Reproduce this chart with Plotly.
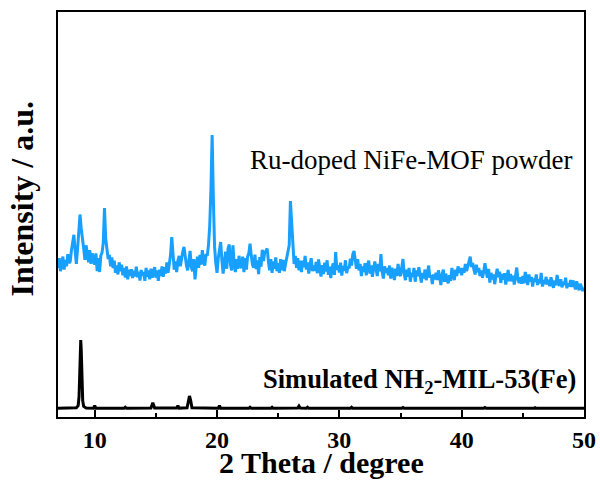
import numpy as np
import plotly.graph_objects as go

# ---- data ----
# Ru-doped NiFe-MOF powder: x grid 7.0..50.0 step 0.1, intensities (a.u.)
ru_x = np.round(np.arange(70, 501) / 10.0, 1)
ru_y = [
    36.8, 39.2, 36.0, 38.2, 39.6, 36.4, 38.8, 37.2, 40.2, 38.0,   # 7.x
    38.4, 41.2, 43.5, 45.0, 41.0, 37.8, 41.5, 45.0, 50.0, 46.5,   # 8.x
    43.0, 41.6, 38.8, 42.4, 40.0, 38.2, 41.2, 37.8, 40.4, 38.6,   # 9.x
    37.6, 40.4, 36.0, 39.2, 35.8, 39.8, 40.6, 43.0, 51.6, 44.0,   # 10.x
    41.0, 39.0, 40.0, 37.2, 39.4, 36.8, 38.6, 35.6, 37.4, 35.2,   # 11.x
    38.2, 36.0, 37.6, 35.0, 36.8, 34.4, 37.2, 34.0, 36.4, 34.8,   # 12.x
    36.5, 34.3, 36.1, 34.7, 37.1, 34.5, 35.9, 33.7, 36.3, 34.9,   # 13.x
    35.8, 33.6, 36.8, 34.6, 36.2, 34.0, 36.6, 34.4, 35.6, 37.0,   # 14.x
    34.4, 36.2, 33.6, 36.4, 34.8, 37.2, 34.6, 37.0, 35.4, 38.2,   # 15.x
    35.6, 37.5, 40.0, 44.4, 39.5, 36.4, 38.4, 35.8, 38.6, 39.8,   # 16.x
    37.2, 39.6, 40.8, 42.0, 39.0, 37.4, 36.2, 38.8, 41.0, 37.0,   # 17.x
    36.0, 39.0, 34.0, 37.2, 39.6, 36.8, 40.0, 37.6, 41.2, 38.4,   # 18.x
    37.4, 40.2, 39.8, 42.4, 47.0, 56.0, 69.6, 54.0, 42.0, 38.0,   # 19.x
    35.6, 39.2, 40.8, 43.2, 38.6, 35.4, 38.4, 40.8, 36.6, 41.6,   # 20.x
    42.6, 37.6, 36.2, 42.4, 38.0, 35.8, 39.0, 36.6, 39.8, 37.4,   # 21.x
    36.8, 39.6, 35.8, 39.2, 36.4, 39.6, 40.4, 42.8, 39.8, 37.6,   # 22.x
    36.9, 40.1, 36.5, 38.7, 35.3, 39.5, 37.1, 41.3, 38.5, 40.7,   # 23.x
    41.0, 41.6, 38.4, 36.2, 39.0, 35.6, 38.4, 36.6, 39.4, 36.0,   # 24.x
    38.0, 35.6, 39.0, 36.2, 38.8, 36.0, 37.8, 39.6, 40.8, 42.4,   # 25.x
    53.3, 47.0, 40.4, 37.8, 39.8, 36.8, 39.2, 36.2, 38.6, 35.8,   # 26.x
    38.6, 37.0, 39.8, 36.4, 38.2, 35.4, 37.6, 39.2, 36.0, 37.4,   # 27.x
    36.1, 38.3, 35.5, 38.9, 36.7, 34.7, 37.5, 35.3, 38.1, 35.9,   # 28.x
    38.7, 35.1, 37.1, 34.3, 36.9, 37.9, 35.1, 40.7, 36.3, 37.5,   # 29.x
    35.7, 38.1, 34.9, 37.3, 36.1, 38.7, 35.5, 37.1, 36.7, 39.1,   # 30.x
    37.4, 40.2, 41.0, 38.0, 36.6, 39.0, 36.2, 37.8, 34.8, 37.2,   # 31.x
    35.8, 38.0, 35.0, 37.2, 38.6, 35.4, 37.4, 34.6, 37.0, 38.4,   # 32.x
    36.6, 34.8, 37.8, 36.0, 40.2, 35.8, 34.2, 37.2, 35.6, 36.8,   # 33.x
    35.0, 37.4, 34.2, 36.8, 35.6, 33.8, 36.6, 34.8, 37.8, 35.4,   # 34.x
    34.8, 36.6, 39.0, 35.4, 33.8, 36.4, 34.6, 36.8, 33.4, 35.6,   # 35.x
    34.6, 36.8, 33.4, 36.2, 34.8, 37.0, 35.0, 33.2, 35.6, 34.2,   # 36.x
    36.4, 33.8, 35.4, 37.4, 34.4, 35.0, 32.8, 35.2, 34.0, 35.6,   # 37.x
    33.8, 36.2, 34.6, 32.6, 35.2, 36.4, 33.4, 35.4, 34.0, 33.0,   # 38.x
    35.0, 33.6, 36.8, 35.2, 33.8, 36.4, 34.8, 37.2, 35.6, 36.8,   # 39.x
    35.0, 36.8, 35.6, 37.8, 36.0, 37.2, 38.4, 39.6, 37.0, 38.0,   # 40.x
    36.4, 35.2, 37.6, 35.8, 36.8, 34.8, 36.2, 34.4, 35.8, 38.0,   # 41.x
    36.0, 34.4, 36.6, 33.2, 35.6, 34.0, 35.2, 32.8, 34.8, 36.6,   # 42.x
    34.5, 35.9, 33.1, 35.3, 33.9, 35.5, 32.7, 34.7, 36.3, 33.5,   # 43.x
    35.3, 33.5, 34.9, 32.7, 35.5, 36.9, 33.9, 33.1, 34.5, 32.9,   # 44.x
    34.8, 33.0, 35.8, 34.0, 32.6, 35.2, 33.4, 34.6, 32.2, 34.2,   # 45.x
    33.4, 35.2, 32.6, 34.0, 33.0, 35.6, 32.2, 33.8, 32.8, 34.6,   # 46.x
    32.7, 33.9, 32.3, 34.5, 33.1, 31.9, 33.7, 32.5, 35.1, 32.9,   # 47.x
    32.4, 34.0, 32.0, 33.4, 32.6, 34.4, 31.8, 33.0, 32.2, 33.8,   # 48.x
    32.1, 33.7, 32.7, 31.5, 33.5, 32.3, 31.3, 32.9, 31.9, 31.1,   # 49.x
    32.0,                                                         # 50.0
]

# Simulated NH2-MIL-53(Fe)
sim_x = [7.0, 8.5, 8.65, 8.72, 8.78, 8.83, 8.86, 8.9, 8.95, 9.02, 9.1, 9.3,
         9.9, 10.0, 10.1, 12.4, 12.5, 12.6, 14.6, 14.75, 14.9, 16.7, 16.8, 16.9,
         17.55, 17.65, 17.75, 17.85, 17.95, 20.1, 20.2, 20.3, 22.6, 22.7, 22.8,
         24.4, 24.5, 24.6, 26.6, 26.7, 26.8, 27.3, 27.4, 27.5, 30.9, 31.0, 31.1,
         35.1, 35.2, 35.3, 41.8, 41.9, 42.0, 45.9, 46.0, 46.1, 50.0]
sim_y = [2.15, 2.3, 2.8, 5.0, 11.0, 17.0, 19.0, 16.5, 9.0, 4.0, 2.6, 2.2,
         2.15, 2.8, 2.15, 2.15, 2.4, 2.15, 2.2, 3.5, 2.2, 2.2, 2.8, 2.2,
         2.3, 4.0, 5.2, 4.0, 2.3, 2.15, 2.8, 2.15, 2.15, 2.4, 2.15,
         2.15, 2.4, 2.15, 2.2, 2.7, 2.2, 2.15, 2.4, 2.15, 2.15, 2.4, 2.15,
         2.15, 2.35, 2.15, 2.15, 2.35, 2.15, 2.15, 2.3, 2.15, 2.15]

x_ticks = [10, 20, 30, 40, 50]
x_tick_text = ["<b>10</b>", "<b>20</b>", "<b>30</b>", "<b>40</b>", "<b>50</b>"]
x_minor = [15, 25, 35, 45]
label_ru = "Ru-doped NiFe-MOF powder"
label_sim = "<b>Simulated NH<sub>2</sub>-MIL-53(Fe)</b>"
x_title = "<b>2 Theta / degree</b>"
y_title = "<b>Intensity / a.u.</b>"

FONT = "Liberation Serif"

fig = go.Figure()
fig.add_trace(go.Scatter(x=sim_x, y=sim_y, mode="lines",
                         line=dict(color="#000000", width=3), showlegend=False))
fig.add_trace(go.Scatter(x=ru_x, y=ru_y, mode="lines",
                         line=dict(color="#17A0FF", width=3), showlegend=False))

fig.update_layout(
    width=600, height=486,
    margin=dict(l=58, r=16, t=12, b=69, autoexpand=False),
    paper_bgcolor="white", plot_bgcolor="white",
    font=dict(family=FONT, color="black"),
    xaxis=dict(range=[7, 50], tickvals=x_ticks, ticktext=x_tick_text, ticks="inside",
               ticklen=7, tickwidth=2,
               tickcolor="black", showline=True, linewidth=2, linecolor="black",
               mirror=True, showgrid=False, zeroline=False, automargin=False,
               tickfont=dict(family=FONT, size=24, color="black"),
               minor=dict(tickvals=x_minor, ticks="inside", ticklen=4,
                          tickwidth=2, tickcolor="black")),
    yaxis=dict(range=[0, 100], showticklabels=False, ticks="", showline=True,
               linewidth=2, linecolor="black", mirror=True, showgrid=False,
               zeroline=False, automargin=False),
    annotations=[
        dict(text=x_title, xref="paper", yref="paper",
             x=0.5, y=-0.113, xanchor="center", yanchor="middle", showarrow=False,
             font=dict(family=FONT, size=30, color="black")),
        dict(text=y_title, xref="paper", yref="paper",
             x=-0.068, y=0.54, xanchor="center", yanchor="middle", textangle=-90,
             showarrow=False, font=dict(family=FONT, size=32, color="black")),
        dict(text=label_ru, xref="paper", yref="paper", x=0.981, y=0.635,
             xanchor="right", yanchor="middle", showarrow=False,
             font=dict(family=FONT, size=27, color="black")),
        dict(text=label_sim, xref="paper", yref="paper", x=0.988, y=0.09,
             xanchor="right", yanchor="middle", showarrow=False,
             font=dict(family=FONT, size=26.5, color="black")),
    ],
)

fig.write_html("out.html")
